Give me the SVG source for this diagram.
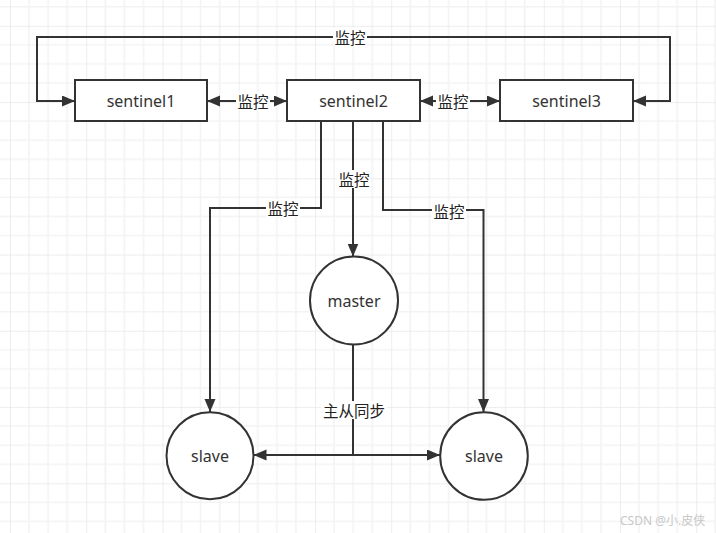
<svg xmlns="http://www.w3.org/2000/svg" width="716" height="533" viewBox="0 0 716 533">
<defs>
<pattern id="grid" patternUnits="userSpaceOnUse" x="10" y="25.8" width="76.25" height="76.25">
<rect width="76.25" height="76.25" fill="#ffffff"/>
<path d="M19.06,0V76.25M38.12,0V76.25M57.19,0V76.25M0,19.06H76.25M0,38.12H76.25M0,57.19H76.25" stroke="#f3f3f3" stroke-width="1.5" fill="none"/>
<path d="M0,0V76.25M0,0H76.25" stroke="#e8e8e8" stroke-width="1.5" fill="none"/>
</pattern>
<marker id="arr" markerUnits="userSpaceOnUse" markerWidth="14" markerHeight="12" refX="13" refY="5.5" orient="auto-start-reverse">
<path d="M0,0L13,5.5L0,11z" fill="#333333"/>
</marker>
<style>
.edge{fill:none;stroke:#333333;stroke-width:2;}
.box{fill:#ffffff;stroke:#333333;stroke-width:2;}
.t{font-family:"Noto Sans","Noto Sans CJK SC",sans-serif;font-size:16px;fill:#333333;text-anchor:middle;dominant-baseline:central;}
.lbg{fill:#ffffff;}
.lb{font-family:"Noto Sans CJK SC","Noto Sans",sans-serif;font-size:15.5px;fill:#222222;text-anchor:middle;dominant-baseline:central;}
.wm{font-family:"Noto Sans","Noto Sans CJK SC",sans-serif;font-size:12px;fill:#c8c8c8;}
</style>
</defs>
<rect width="716" height="533" fill="url(#grid)"/>
<g id="connectors">
<path class="edge" d="M75,101L37,101L37,37L670,37L670,101L633,101" marker-start="url(#arr)" marker-end="url(#arr)"/>
<path class="edge" d="M207,101L287,101" marker-start="url(#arr)" marker-end="url(#arr)"/>
<path class="edge" d="M420,101L500,101" marker-start="url(#arr)" marker-end="url(#arr)"/>
<path class="edge" d="M321,121L321,208L210,208L210,412" marker-end="url(#arr)"/>
<path class="edge" d="M353,121L353,256.5" marker-end="url(#arr)"/>
<path class="edge" d="M383,121L383,210L483.5,210L483.5,412" marker-end="url(#arr)"/>
<path class="edge" d="M353,344.5L353,455"/>
<path class="edge" d="M253.5,455L440,455" marker-start="url(#arr)" marker-end="url(#arr)"/>
<rect class="lbg" x="333" y="28" width="34" height="18"/>
<text class="lb" x="350" y="37">监控</text>
<rect class="lbg" x="236" y="92" width="34" height="18"/>
<text class="lb" x="253" y="101">监控</text>
<rect class="lbg" x="436" y="92" width="34" height="18"/>
<text class="lb" x="453" y="101">监控</text>
<rect class="lbg" x="266" y="199" width="34" height="18"/>
<text class="lb" x="283" y="208">监控</text>
<rect class="lbg" x="337" y="170" width="34" height="18"/>
<text class="lb" x="354" y="179">监控</text>
<rect class="lbg" x="432" y="202" width="34" height="18"/>
<text class="lb" x="449" y="211">监控</text>
<rect class="lbg" x="321" y="401" width="66" height="18"/>
<text class="lb" x="354" y="410">主从同步</text>
</g>
<g id="sentinel1">
<rect class="box" x="75" y="80" width="132" height="41"/>
<text class="t" x="141" y="100.5">sentinel1</text>
</g>
<g id="sentinel2">
<rect class="box" x="287" y="80" width="133" height="41"/>
<text class="t" x="353.5" y="100.5">sentinel2</text>
</g>
<g id="sentinel3">
<rect class="box" x="500" y="80" width="133" height="41"/>
<text class="t" x="566.5" y="100.5">sentinel3</text>
</g>
<g id="master">
<circle class="box" cx="354" cy="300.5" r="44"/>
<text class="t" x="354" y="300.5">master</text>
</g>
<g id="slave1">
<circle class="box" cx="210" cy="455.7" r="43.5"/>
<text class="t" x="210" y="455.7">slave</text>
</g>
<g id="slave2">
<circle class="box" cx="484" cy="456" r="43.8"/>
<text class="t" x="484" y="456">slave</text>
</g>
<text class="wm" x="620" y="525">CSDN @小.皮侠</text>
</svg>
